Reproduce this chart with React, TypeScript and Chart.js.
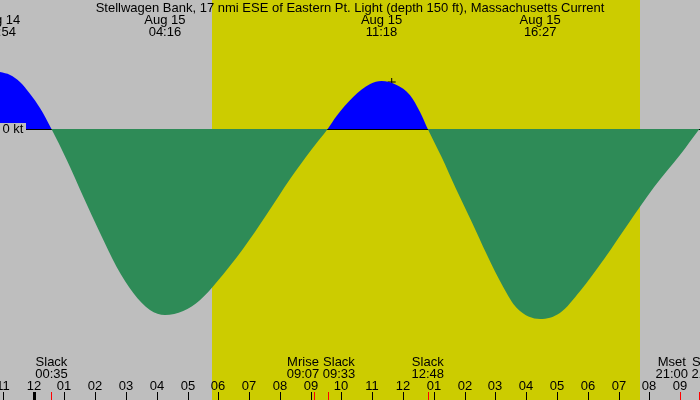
import React, { useEffect, useRef } from 'react';
import { Chart, registerables, Plugin } from 'chart.js';

Chart.register(...registerables);

const title = 'Stellwagen Bank, 17 nmi ESE of Eastern Pt. Light (depth 150 ft), Massachusetts Current';

// current speed (kt), hours counted from Aug 15 00:00
const flowHours = [
  -1.1, -0.76, -0.44, -0.11, 0.21, 0.583, 1.08, 1.62, 2.16, 2.7, 3.24, 3.78, 4.27, 4.86, 5.41, 5.95, 6.8,
  7.58, 8.33, 9.04, 9.55, 9.84, 10.38, 10.93, 11.3, 11.79, 12.22, 12.55, 12.8, 13.25, 13.72, 14.23, 14.71,
  15.25, 15.69, 16.45, 17.09, 17.75, 18.55, 19.35, 20.15, 20.99, 21.62,
];
const flowKnots = [
  0.57, 0.54, 0.47, 0.35, 0.21, 0, -0.31, -0.68, -1.04, -1.38, -1.64, -1.81, -1.86, -1.82, -1.71, -1.53, -1.2,
  -0.85, -0.5, -0.2, 0, 0.13, 0.32, 0.45, 0.48, 0.44, 0.34, 0.17, 0, -0.28, -0.6, -0.93, -1.25,
  -1.58, -1.79, -1.9, -1.84, -1.62, -1.29, -0.93, -0.58, -0.26, 0,
];

// max flood / max ebb labels on top
const peakDates = ['Aug 14', 'Aug 15', 'Aug 15', 'Aug 15'];
const peakTimes = ['22:54', '04:16', '11:18', '16:27'];

// slack and moon events at the bottom
const eventNames = ['Slack', 'Mrise', 'Slack', 'Slack', 'Mset', 'Slack'];
const eventTimes = ['00:35', '09:07', '09:33', '12:48', '21:00', '21:37'];

const hourLabels = ['11', '12', '01', '02', '03', '04', '05', '06', '07', '08', '09', '10', '11', '12',
  '01', '02', '03', '04', '05', '06', '07', '08', '09'];
const firstHour = -1;

const sunrise = '05:47';
const sunset = '19:41';

const nowHour = 11.63;
const nowKnots = 0.47;

const NIGHT = '#bebebe';
const DAY = '#cccc00';
const FONT = '13px "Liberation Sans", Arial, sans-serif';

const toHour = (t: string, day = 'Aug 15') => {
  const [h, m] = t.split(':').map(Number);
  return h + m / 60 + (day === 'Aug 14' ? -24 : 0);
};

const tidePlugin: Plugin<'line'> = {
  id: 'tideDecor',
  beforeDraw(chart) {
    const { ctx, scales } = chart;
    const x = scales.x;
    ctx.save();
    ctx.fillStyle = NIGHT;
    ctx.fillRect(0, 0, chart.width, chart.height);
    const x1 = Math.round(x.getPixelForValue(toHour(sunrise)));
    const x2 = Math.round(x.getPixelForValue(toHour(sunset)));
    ctx.fillStyle = DAY;
    ctx.fillRect(x1, 0, x2 - x1, chart.height);
    ctx.restore();
  },
  beforeDatasetsDraw(chart) {
    const { ctx, scales } = chart;
    const y0 = Math.round(scales.y.getPixelForValue(0));
    ctx.save();
    ctx.fillStyle = '#000';
    ctx.fillRect(26, y0, chart.width - 26, 1);
    ctx.restore();
  },
  afterDatasetsDraw(chart) {
    const { ctx, scales } = chart;
    const x = scales.x;
    const y0 = Math.round(scales.y.getPixelForValue(0));
    const bottom = chart.height;
    ctx.save();
    ctx.font = FONT;

    // zero label sits on its own patch of background
    ctx.fillStyle = NIGHT;
    ctx.fillRect(0, y0 - 6, 26, 12);
    ctx.fillStyle = '#000';
    ctx.textAlign = 'left';
    ctx.fillText('0 kt', 2.5, y0 + 4);

    ctx.textAlign = 'center';
    ctx.textBaseline = 'alphabetic';
    ctx.fillText(title, chart.width / 2, 12);

    peakTimes.forEach((t, i) => {
      const px = x.getPixelForValue(toHour(t, peakDates[i]));
      ctx.fillText(peakDates[i], px, 24);
      ctx.fillText(t, px, 36);
    });

    // hour ticks
    hourLabels.forEach((lab, i) => {
      const h = firstHour + i;
      const px = Math.round(x.getPixelForValue(h));
      ctx.fillText(lab, px, 389.5);
      if (h === 0) {
        ctx.fillRect(px - 1, bottom - 8, 3, 8);
      } else {
        ctx.fillRect(px, bottom - 8, 1, 8);
      }
    });

    // event labels, pushed apart when they collide
    const centers = eventTimes.map((t) => x.getPixelForValue(toHour(t)));
    const spots = centers.slice();
    for (let i = 1; i < spots.length; i++) {
      if (spots[i] - spots[i - 1] < 36) {
        const mid = (spots[i] + spots[i - 1]) / 2;
        spots[i - 1] = mid - 18;
        spots[i] = mid + 18;
      }
    }
    eventNames.forEach((name, i) => {
      ctx.fillStyle = '#000';
      ctx.fillText(name, spots[i], 366);
      ctx.fillText(eventTimes[i], spots[i], 378);
      ctx.fillStyle = '#ff0000';
      ctx.fillRect(Math.round(centers[i]), bottom - 8, 1, 8);
    });
    ctx.restore();
  },
};

const App = () => {
  const chartRef = useRef<HTMLCanvasElement | null>(null);
  const chartInstance = useRef<Chart | null>(null);

  useEffect(() => {
    document.body.style.margin = '0';
    if (chartInstance.current) {
      chartInstance.current.destroy();
    }
    const ctx = chartRef.current?.getContext('2d');
    if (!ctx) return;

    chartInstance.current = new Chart(ctx, {
      type: 'line',
      data: {
        datasets: [
          {
            label: 'Current',
            data: flowHours.map((h, i) => ({ x: h, y: flowKnots[i] })),
            borderWidth: 0,
            borderColor: 'rgba(0,0,0,0)',
            pointRadius: 0,
            cubicInterpolationMode: 'monotone',
            fill: { target: 'origin', above: '#0000ff', below: '#2e8b57' },
          },
          {
            label: 'Now',
            data: [{ x: nowHour, y: nowKnots }],
            showLine: false,
            pointStyle: 'cross',
            pointRadius: 4,
            borderColor: '#000',
            borderWidth: 1,
          },
        ],
      },
      options: {
        responsive: false,
        animation: false,
        layout: { padding: 0, autoPadding: false },
        plugins: {
          legend: { display: false },
          tooltip: { enabled: false },
        },
        scales: {
          x: { type: 'linear', display: false, min: -1.088, max: 21.64 },
          y: { display: false, min: -2.71, max: 1.29 },
        },
      },
      plugins: [tidePlugin],
    });

    return () => {
      if (chartInstance.current) {
        chartInstance.current.destroy();
        chartInstance.current = null;
      }
    };
  }, []);

  return <canvas ref={chartRef} width={700} height={400} style={{ display: 'block' }} />;
};

export default App;
